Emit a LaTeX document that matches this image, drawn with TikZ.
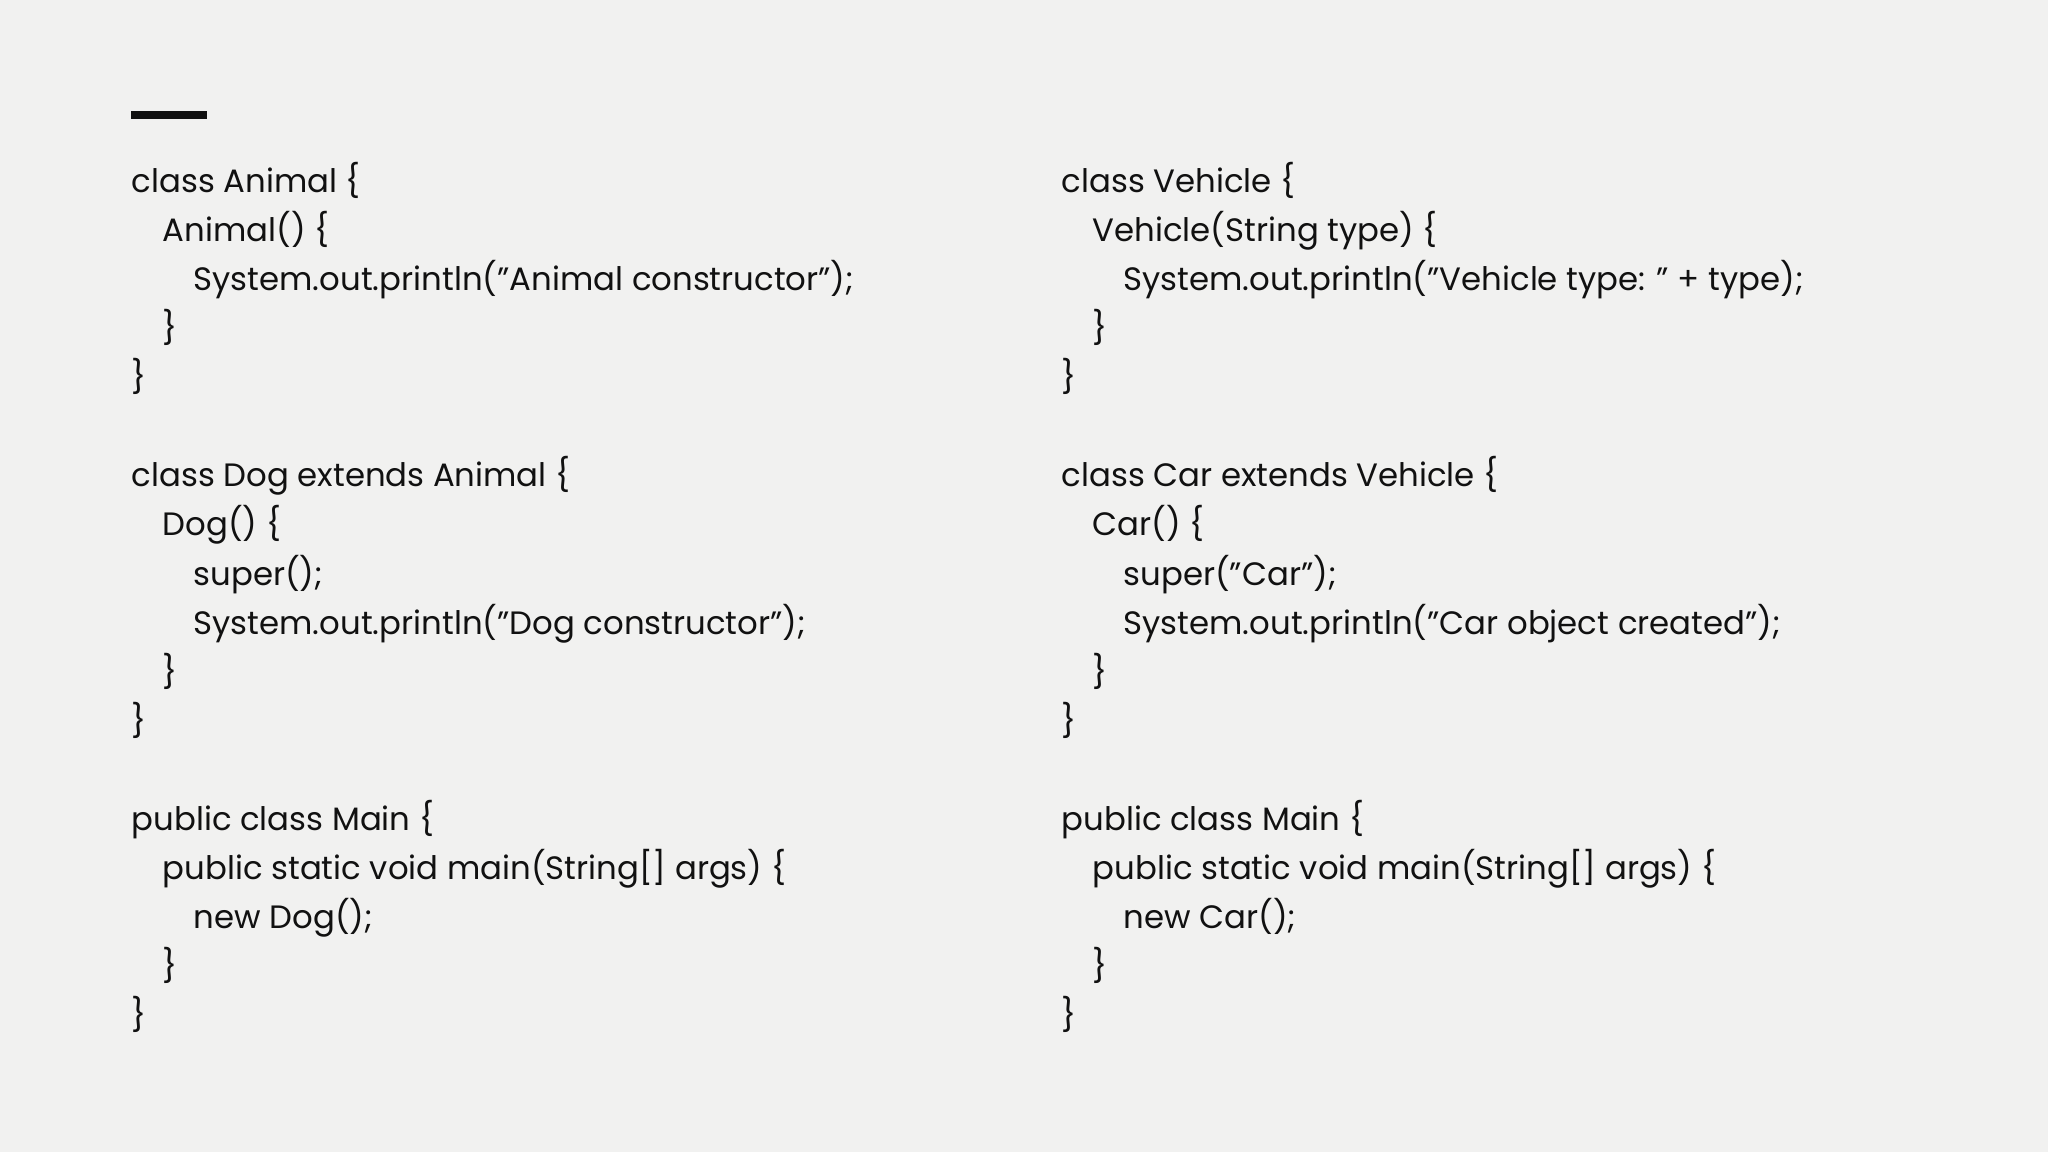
\documentclass[tikz,border=0pt]{standalone}
\usepackage{fontspec}
\setmainfont{Poppins}
\definecolor{bg}{HTML}{F1F1F0}
\definecolor{ink}{HTML}{111111}
\newcommand{\qq}{\char34 }
\begin{document}
\begin{tikzpicture}[x=0.01cm,y=-0.01cm,
  code/.style={anchor=base west,inner sep=0pt,text=ink,font=\fontsize{9.2pt}{11pt}\selectfont}]
\fill[bg] (0,0) rectangle (2048,1152);
\useasboundingbox (0,0) rectangle (2048,1152);
\fill[ink] (131,111) rectangle (207,119);
% left column
\def\L{131}\def\I{31}
\node[code] (a1) at (\L,193) {class Animal \{};
\node[code] (a2) at (\L+\I,242) {Animal() \{};
\node[code] (a3) at (\L+2*\I,291) {System.out.println(\qq Animal constructor\qq);};
\node[code] (a4) at (\L+\I,340) {\}};
\node[code] (a5) at (\L,389) {\}};
\node[code] (b1) at (\L,487) {class Dog extends Animal \{};
\node[code] (b2) at (\L+\I,536) {Dog() \{};
\node[code] (b3) at (\L+2*\I,585) {super();};
\node[code] (b4) at (\L+2*\I,634) {System.out.println(\qq Dog constructor\qq);};
\node[code] (b5) at (\L+\I,683) {\}};
\node[code] (b6) at (\L,732) {\}};
\node[code] (c1) at (\L,830) {public class Main \{};
\node[code] (c2) at (\L+\I,879) {public static void main(String[] args) \{};
\node[code] (c3) at (\L+2*\I,928) {new Dog();};
\node[code] (c4) at (\L+\I,977) {\}};
\node[code] (c5) at (\L,1026) {\}};
% right column
\def\R{1061}
\node[code] (d1) at (\R,193) {class Vehicle \{};
\node[code] (d2) at (\R+\I,242) {Vehicle(String type) \{};
\node[code] (d3) at (\R+2*\I,291) {System.out.println(\qq Vehicle type: \qq\ + type);};
\node[code] (d4) at (\R+\I,340) {\}};
\node[code] (d5) at (\R,389) {\}};
\node[code] (e1) at (\R,487) {class Car extends Vehicle \{};
\node[code] (e2) at (\R+\I,536) {Car() \{};
\node[code] (e3) at (\R+2*\I,585) {super(\qq Car\qq);};
\node[code] (e4) at (\R+2*\I,634) {System.out.println(\qq Car object created\qq);};
\node[code] (e5) at (\R+\I,683) {\}};
\node[code] (e6) at (\R,732) {\}};
\node[code] (f1) at (\R,830) {public class Main \{};
\node[code] (f2) at (\R+\I,879) {public static void main(String[] args) \{};
\node[code] (f3) at (\R+2*\I,928) {new Car();};
\node[code] (f4) at (\R+\I,977) {\}};
\node[code] (f5) at (\R,1026) {\}};
\end{tikzpicture}
\end{document}
